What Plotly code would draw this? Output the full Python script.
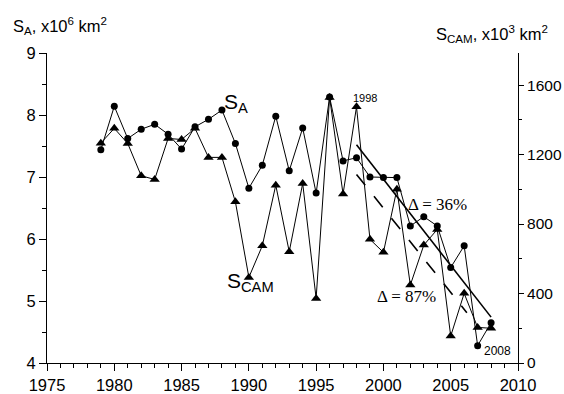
import plotly.graph_objects as go

years = list(range(1979, 2009))
s_a = [7.44, 8.14, 7.62, 7.77, 7.85, 7.69, 7.45, 7.81, 7.93, 8.08,
       7.54, 6.82, 7.19, 7.98, 7.10, 7.79, 6.74, 8.29, 7.26, 7.31,
       7.00, 6.99, 6.99, 6.21, 6.36, 6.21, 5.54, 5.89, 4.28, 4.65]
s_cam = [1266, 1351, 1264, 1078, 1057, 1293, 1287, 1351, 1184, 1184,
         928, 493, 675, 1024, 641, 1034, 372, 1529, 973, 1475,
         712, 637, 1000, 449, 679, 769, 155, 401, 205, 200]
trend_a_x = [1998, 2008]
trend_a_y = [7.52, 4.74]
trend_cam_x = [1998, 2006.2]
trend_cam_y = [1086, 290]

FONT = "Liberation Sans, Arial, sans-serif"
SERIF = "Liberation Serif, Times New Roman, serif"

fig = go.Figure()
fig.add_trace(go.Scatter(x=years, y=s_a, mode="lines+markers",
                         line=dict(color="black", width=1),
                         marker=dict(symbol="circle", size=7, color="black"),
                         yaxis="y"))
fig.add_trace(go.Scatter(x=years, y=s_cam, mode="lines+markers",
                         line=dict(color="black", width=1),
                         marker=dict(symbol="triangle-up", size=9, color="black"),
                         yaxis="y2"))
fig.add_trace(go.Scatter(x=trend_a_x, y=trend_a_y, mode="lines",
                         line=dict(color="black", width=1.6), yaxis="y"))
fig.add_trace(go.Scatter(x=trend_cam_x, y=trend_cam_y, mode="lines",
                         line=dict(color="black", width=1.6, dash="14px,14px"),
                         yaxis="y2"))

fig.update_layout(
    width=564, height=394,
    margin=dict(l=47, r=46, t=53, b=31, autoexpand=False),
    paper_bgcolor="white", plot_bgcolor="white",
    showlegend=False,
    font=dict(family=FONT, size=16.5, color="black"),
    xaxis=dict(range=[1975, 2010], dtick=5, tick0=1975, showline=True,
               linecolor="black", linewidth=1, ticks="outside", ticklen=7,
               tickcolor="black", showgrid=False, zeroline=False, automargin=False,
               minor=dict(dtick=1, ticks="outside", ticklen=4, tickcolor="black"),
               tickfont=dict(size=16.5)),
    yaxis=dict(range=[4, 9], dtick=1, showline=True, linecolor="black",
               linewidth=1, ticks="outside", ticklen=7, tickcolor="black",
               showgrid=False, zeroline=False, automargin=False,
               minor=dict(dtick=0.5, ticks="outside", ticklen=4, tickcolor="black"),
               tickfont=dict(size=16.5)),
    yaxis2=dict(range=[0, 1785], dtick=400, overlaying="y", side="right",
                showline=True, linecolor="black", linewidth=1, ticks="outside",
                ticklen=5, tickcolor="black", showgrid=False, zeroline=False,
                automargin=False,
                minor=dict(dtick=200, ticks="outside", ticklen=3, tickcolor="black"),
                tickfont=dict(size=15.5)),
)

ann = [
    dict(x=11, y=394 - 26, text="S<sub>A</sub>, x10<sup>6</sup> km<sup>2</sup>",
         size=16.5, xanchor="left"),
    dict(x=550, y=394 - 34, text="S<sub>CAM</sub>, x10<sup>3</sup> km<sup>2</sup>",
         size=16.5, xanchor="right"),
]
for a in ann:
    fig.add_annotation(xref="paper", yref="paper",
                       x=(a["x"] - 47) / (564 - 47 - 46),
                       y=(a["y"] - 31) / (394 - 53 - 31),
                       text=a["text"], showarrow=False, xanchor=a["xanchor"],
                       yanchor="middle", font=dict(family=FONT, size=a["size"]))

fig.add_annotation(x=1988.0, y=8.2, xref="x", yref="y", text="S<sub>A</sub>",
                   showarrow=False, xanchor="left", yanchor="middle",
                   font=dict(family=FONT, size=21))
fig.add_annotation(x=1988.2, y=5.3, xref="x", yref="y", text="S<sub>CAM</sub>",
                   showarrow=False, xanchor="left", yanchor="middle",
                   font=dict(family=FONT, size=21))
fig.add_annotation(x=1998.6, y=8.28, xref="x", yref="y", text="1998",
                   showarrow=False, xanchor="center", yanchor="middle",
                   font=dict(family=FONT, size=11))
fig.add_annotation(x=2008.5, y=4.2, xref="x", yref="y", text="2008",
                   showarrow=False, xanchor="center", yanchor="middle",
                   font=dict(family=FONT, size=12))
fig.add_annotation(x=2004.0, y=6.56, xref="x", yref="y", text="Δ = 36%",
                   showarrow=False, xanchor="center", yanchor="middle",
                   font=dict(family=SERIF, size=17))
fig.add_annotation(x=2001.7, y=5.08, xref="x", yref="y", text="Δ = 87%",
                   showarrow=False, xanchor="center", yanchor="middle",
                   font=dict(family=SERIF, size=17))

fig.write_html("out.html")
